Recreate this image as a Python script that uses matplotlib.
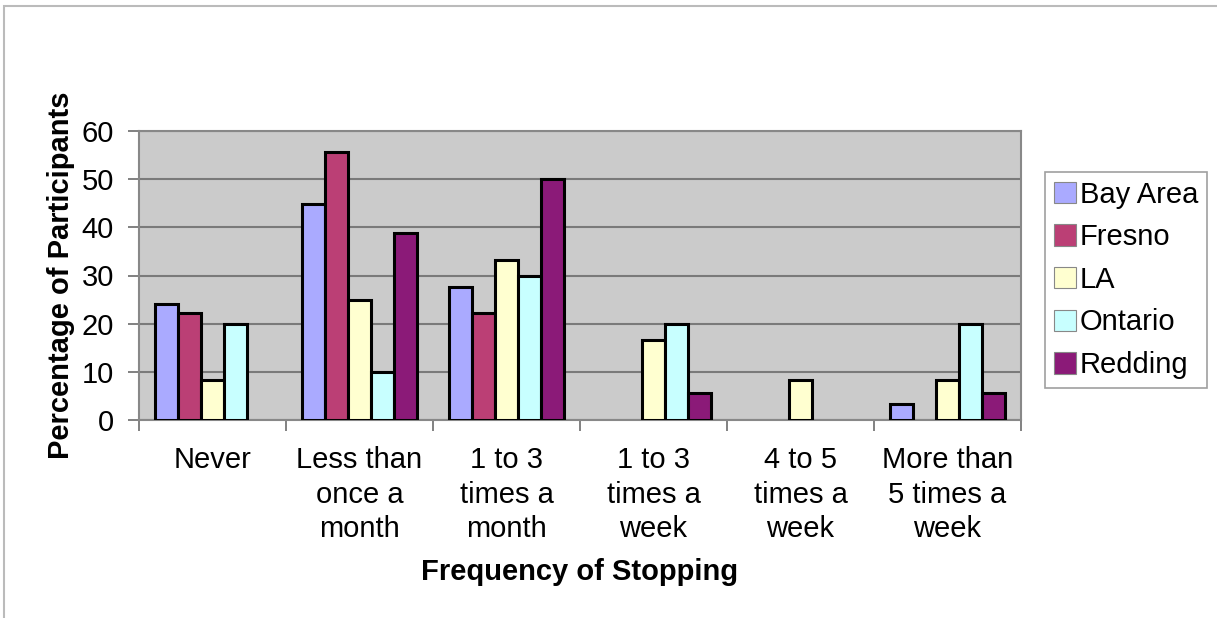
import matplotlib
matplotlib.use("Agg")
import matplotlib.pyplot as plt
import numpy as np
from matplotlib.patches import Rectangle, Patch

plt.rcParams['font.family'] = ['Liberation Sans', 'DejaVu Sans']

categories = ["Never", "Less than\nonce a\nmonth", "1 to 3\ntimes a\nmonth",
              "1 to 3\ntimes a\nweek", "4 to 5\ntimes a\nweek", "More than\n5 times a\nweek"]
series_names = ["Bay Area", "Fresno", "LA", "Ontario", "Redding"]
bay_area = [24.1, 44.8, 27.6, 0, 0, 3.4]
fresno = [22.2, 55.6, 22.2, 0, 0, 0]
la = [8.3, 25.0, 33.3, 16.7, 8.3, 8.3]
ontario = [20.0, 10.0, 30.0, 20.0, 0, 20.0]
redding = [0, 38.9, 50.0, 5.6, 0, 5.6]
series_values = [bay_area, fresno, la, ontario, redding]
colors = ["#AAAAFF", "#BB3F75", "#FFFFD0", "#C8FFFF", "#8B1A78"]

FS = 21

fig = plt.figure(figsize=(12.17, 6.18), dpi=100)
fig.patches.append(Rectangle((4 / 1217, -0.1), 1.2, 1.1 - 6 / 618, transform=fig.transFigure,
                             fill=False, edgecolor="#BBBBBB", linewidth=1.5, zorder=0))

ax = fig.add_axes([139 / 1217, 1 - 420 / 618, (1021 - 139) / 1217, (420 - 131) / 618])
ax.set_facecolor("#CBCBCB")

n = len(series_names)
x = np.arange(len(categories))
w = 0.156
for i, (name, vals, c) in enumerate(zip(series_names, series_values, colors)):
    offs = x + (i - (n - 1) / 2) * w
    bars = ax.bar(offs, vals, width=w, color=c, edgecolor="black", linewidth=2.2,
                  zorder=3)
    # empty categories show no bar outline
    for b, v in zip(bars, vals):
        if v == 0:
            b.set_linewidth(0)

ax.set_xlim(-0.5, len(categories) - 0.5)
ax.set_ylim(0, 60)
ax.set_yticks(range(0, 61, 10))
ax.yaxis.grid(True, color="#7A7A7A", linewidth=1.5, zorder=1)
ax.set_axisbelow(True)

# category boundaries as major ticks, labels at the centres
ax.set_xticks(np.arange(-0.5, len(categories), 1.0))
ax.set_xticklabels([])
ax.set_xticks(x, minor=True)
ax.set_xticklabels(categories, minor=True, fontsize=FS, linespacing=1.28, va="top")
ax.tick_params(axis="x", which="minor", length=0, pad=19)
ax.tick_params(axis="x", which="major", length=8, width=1.3, color="#777777")
ax.tick_params(axis="y", length=8, width=1.3, color="#777777", labelsize=FS, pad=10)

for side in ["left", "bottom", "right", "top"]:
    ax.spines[side].set_color("#888888")
    ax.spines[side].set_linewidth(1.5)

ax.set_ylabel("Percentage of Participants", fontsize=FS, fontweight="bold", labelpad=5)
ax.set_xlabel("Frequency of Stopping", fontsize=FS, fontweight="bold", labelpad=11)

handles = [Patch(facecolor=c, edgecolor="#888888", linewidth=0.8, label=name)
           for name, c in zip(series_names, colors)]
leg = fig.legend(handles=handles, loc="upper left", bbox_to_anchor=(1045 / 1217, 1 - 172 / 618),
                 fontsize=FS, frameon=True, fancybox=False, edgecolor="#888888",
                 handlelength=0.75, handleheight=0.75, handletextpad=0.15,
                 borderpad=0.3, labelspacing=0.5, borderaxespad=0)
leg.get_frame().set_linewidth(1.2)

fig.savefig("out.png", dpi=100, facecolor="white")
